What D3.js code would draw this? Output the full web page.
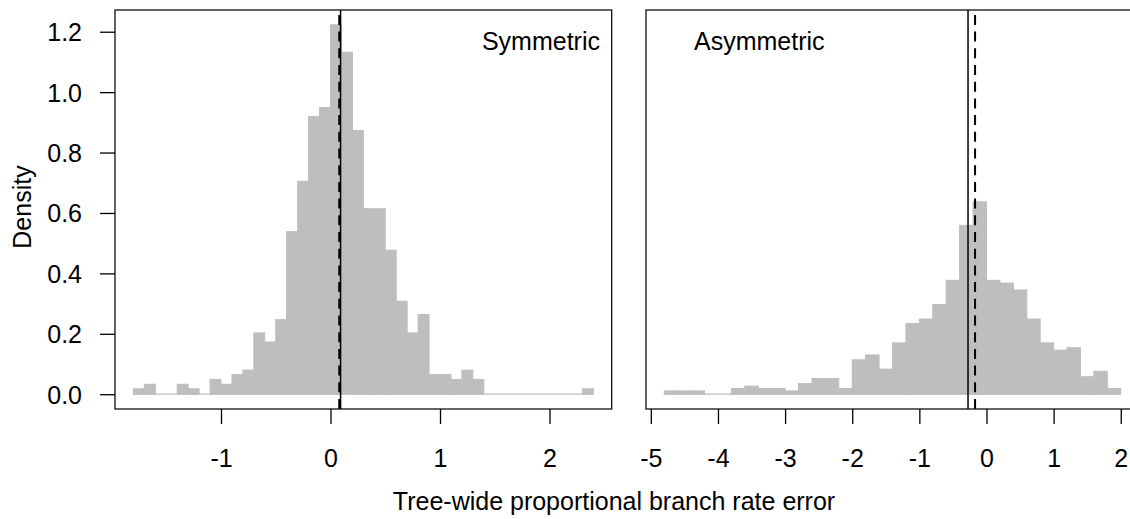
<!DOCTYPE html>
<html>
<head>
<meta charset="utf-8">
<script src="https://cdn.jsdelivr.net/npm/d3@7"></script>
<style>
  html, body { margin: 0; padding: 0; background: #ffffff; }
  svg { display: block; }
  text { font-family: "Liberation Sans", Arial, Helvetica, sans-serif; fill: #000; }
</style>
</head>
<body>
<svg id="chart" width="1130" height="519"></svg>
<script>
// Histogram bin breaks and densities, symmetric model (bin width 0.1)
const symBreaks = [-1.8, -1.7, -1.6, -1.5, -1.4, -1.3, -1.2, -1.1, -1.0, -0.9, -0.8, -0.7, -0.6, -0.5,
  -0.4, -0.3, -0.2, -0.1, 0.0, 0.1, 0.2, 0.3, 0.4, 0.5, 0.6, 0.7, 0.8, 0.9, 1.0, 1.1, 1.2, 1.3,
  1.4, 1.5, 1.6, 1.7, 1.8, 1.9, 2.0, 2.1, 2.2, 2.3, 2.4];
const symDensity = [0.018, 0.033, 0, 0, 0.033, 0.018, 0, 0.049, 0.033, 0.065, 0.080, 0.203, 0.173, 0.247,
  0.538, 0.705, 0.919, 0.949, 1.223, 1.132, 0.873, 0.614, 0.614, 0.477, 0.308, 0.203, 0.264, 0.065,
  0.065, 0.049, 0.080, 0.049, 0, 0, 0, 0, 0, 0, 0, 0, 0, 0.018];
const symMedian = 0.080;   // dashed line
const symMean = 0.092;     // solid line

// Histogram bin breaks and densities, asymmetric model (bin width 0.2)
const asymBreaks = [-4.8, -4.6, -4.4, -4.2, -4.0, -3.8, -3.6, -3.4, -3.2, -3.0, -2.8, -2.6, -2.4, -2.2,
  -2.0, -1.8, -1.6, -1.4, -1.2, -1.0, -0.8, -0.6, -0.4, -0.2, 0.0, 0.2, 0.4, 0.6, 0.8, 1.0, 1.2,
  1.4, 1.6, 1.8, 2.0];
const asymDensity = [0.011, 0.011, 0.011, 0, 0, 0.019, 0.027, 0.019, 0.019, 0.011, 0.035, 0.052, 0.052,
  0.019, 0.114, 0.130, 0.083, 0.170, 0.234, 0.249, 0.297, 0.377, 0.559, 0.637, 0.377, 0.368, 0.345,
  0.249, 0.170, 0.146, 0.154, 0.058, 0.076, 0.019];
const asymMedian = -0.170; // dashed line
const asymMean = -0.275;   // solid line

const symTicks = [-1, 0, 1, 2];
const asymTicks = [-5, -4, -3, -2, -1, 0, 1, 2];
const densityTicks = [0.0, 0.2, 0.4, 0.6, 0.8, 1.0, 1.2];

const panelTitles = ["Symmetric", "Asymmetric"];
const xTitle = "Tree-wide proportional branch rate error";
const yTitle = "Density";

const FS = 25;
const barColor = "#bebebe";
const svg = d3.select("#chart");

// Pad a range by 4% on each side
function padded(lo, hi) {
  const d = (hi - lo) * 0.04;
  return [lo - d, hi + d];
}

const plotTop = 10, plotBottom = 409;
const yMax = d3.max(symDensity.concat(asymDensity));
const y = d3.scaleLinear().domain(padded(0, yMax)).range([plotBottom, plotTop]);

function drawPanel(breaks, density, ticks, left, right, mean, median, title, titleAnchor, titleX, showY) {
  const x = d3.scaleLinear()
    .domain(padded(breaks[0], breaks[breaks.length - 1]))
    .range([left, right]);
  const g = svg.append("g");

  // thin baseline under the bins (empty bins show as a line)
  g.append("line")
    .attr("x1", x(breaks[0])).attr("x2", x(breaks[breaks.length - 1]))
    .attr("y1", y(0)).attr("y2", y(0))
    .attr("stroke", barColor).attr("stroke-width", 1.2);

  const bins = density.map((d, i) => ({ x0: breaks[i], x1: breaks[i + 1], d }));
  g.selectAll("rect.bar").data(bins).join("rect")
    .attr("class", "bar")
    .attr("x", b => x(b.x0))
    .attr("width", b => x(b.x1) - x(b.x0))
    .attr("y", b => y(b.d))
    .attr("height", b => y(0) - y(b.d))
    .attr("fill", barColor)
    .attr("stroke", barColor)
    .attr("stroke-width", 1);

  // mean (solid) and median (dashed) reference lines
  g.append("line")
    .attr("x1", x(mean)).attr("x2", x(mean))
    .attr("y1", plotBottom).attr("y2", plotTop)
    .attr("stroke", "#000").attr("stroke-width", 1.5);
  g.append("line")
    .attr("x1", x(median)).attr("x2", x(median))
    .attr("y1", plotBottom).attr("y2", plotTop)
    .attr("stroke", "#000").attr("stroke-width", 2)
    .attr("stroke-dasharray", "10,6.7");

  // frame
  g.append("rect")
    .attr("x", left).attr("y", plotTop)
    .attr("width", right - left).attr("height", plotBottom - plotTop)
    .attr("fill", "none").attr("stroke", "#111").attr("stroke-width", 1.3);

  // x axis
  const xAxis = d3.axisBottom(x).tickValues(ticks).tickSize(15).tickPadding(9)
    .tickFormat(d3.format("d"));
  const ax = g.append("g").attr("transform", `translate(0,${plotBottom})`).call(xAxis);
  ax.select(".domain").remove();
  ax.selectAll(".tick line").attr("stroke", "#000").attr("stroke-width", 1.3);
  ax.selectAll(".tick text")
    .attr("font-size", FS).attr("fill", "#000")
    .attr("font-family", "Liberation Sans, Arial, sans-serif")
    .attr("dy", null).attr("y", 58).text(d => d < 0 ? "-" + Math.abs(d) : d);

  if (showY) {
    const yAxis = d3.axisLeft(y).tickValues(densityTicks).tickSize(15).tickPadding(18)
      .tickFormat(d3.format(".1f"));
    const ay = g.append("g").attr("transform", `translate(${left},0)`).call(yAxis);
    ay.select(".domain").remove();
    ay.selectAll(".tick line").attr("stroke", "#000").attr("stroke-width", 1.3);
    ay.selectAll(".tick text")
      .attr("font-size", FS).attr("fill", "#000")
      .attr("font-family", "Liberation Sans, Arial, sans-serif")
      .attr("dy", null).attr("y", 9);
  }

  g.append("text")
    .attr("x", titleX).attr("y", 50)
    .attr("text-anchor", titleAnchor)
    .attr("font-size", FS)
    .text(title);
}

// the right-hand frame runs past the edge of the canvas
drawPanel(symBreaks, symDensity, symTicks, 115, 611.7, symMean, symMedian, panelTitles[0], "end", 600, true);
drawPanel(asymBreaks, asymDensity, asymTicks, 646, 1139, asymMean, asymMedian, panelTitles[1], "start", 694, false);

svg.append("text")
  .attr("x", 614).attr("y", 510)
  .attr("text-anchor", "middle")
  .attr("font-size", FS)
  .text(xTitle);

svg.append("text")
  .attr("transform", "translate(31,207) rotate(-90)")
  .attr("text-anchor", "middle")
  .attr("font-size", FS)
  .text(yTitle);
</script>
</body>
</html>
